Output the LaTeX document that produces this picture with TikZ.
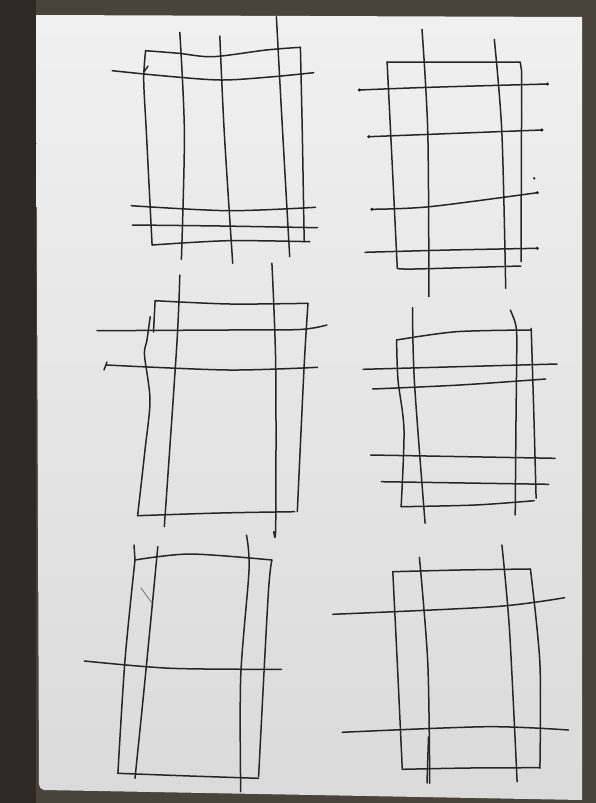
\documentclass[tikz,border=0pt]{standalone}
\begin{document}
\begin{tikzpicture}[x=1pt,y=-1pt,
  pen/.style={line width=1.5pt, draw=black!85, line cap=round, line join=round},
  thin pen/.style={line width=0.7pt, draw=black!60, line cap=round},
  enddot/.style={fill=black!88}]
\definecolor{sofa}{HTML}{4A433B}
\definecolor{sofadark}{HTML}{2F2A25}
\definecolor{paper}{HTML}{E6E6E6}
\useasboundingbox (0,0) rectangle (596,803);
\fill[sofa] (0,0) rectangle (596,803);
\fill[sofadark] (0,0) rectangle (36,803);
\shade[top color=paper!60!white, bottom color=paper!95!black]
  (36,15) -- (582,17) -- (582,800) -- (44,790) to[out=180,in=-90] (39,784) -- cycle;

% ---------- Panel 1 (top left) ----------
\draw[pen] plot[smooth,tension=0.5] coordinates {(145.6,50.7) (178.7,53.3) (212.9,56.7) (266.2,50) (300.4,47.3)};
\draw[pen] plot[smooth,tension=0.5] coordinates {(300.4,47.3) (302.3,133) (304.2,241.7)};
\draw[pen] plot[smooth,tension=0.5] coordinates {(152.1,245) (228.1,240.7) (309.9,241.7)};
\draw[pen] plot[smooth,tension=0.5] coordinates {(145.6,50.7) (143.7,80) (146.4,133) (152.1,245)};
\draw[pen] (144,72) -- (148,66);
\draw[pen] plot[smooth,tension=0.5] coordinates {(112.2,70.7) (165,76) (220.5,80) (270,77) (313.7,72.7)};
\draw[pen] plot[smooth,tension=0.5] coordinates {(131.2,205.7) (228.1,210.7) (315.6,207.3)};
\draw[pen] plot[smooth,tension=0.5] coordinates {(132.3,225) (220,226) (317.5,227.7)};
\draw[pen] plot[smooth,tension=0.5] coordinates {(179.8,32.3) (184.4,133.3) (181.4,259.3)};
\draw[pen] plot[smooth,tension=0.5] coordinates {(219.8,36) (224.3,133) (232.7,263.3)};
\draw[pen] plot[smooth,tension=0.5] coordinates {(276.4,16.7) (281.4,110) (289.7,256.7)};

% ---------- Panel 2 (top right) ----------
\draw[pen] (387.1,62) -- (520.2,62) -- (521.7,71.7) -- (521,261.7);
\draw[pen] plot[smooth,tension=0.5] coordinates {(387.1,62) (392,160) (397.3,268.3)};
\draw[pen] plot[smooth,tension=0.5] coordinates {(397.3,268.3) (414.4,269) (520.9,266)};
\draw[pen] plot[smooth,tension=0.5] coordinates {(422,29.3) (427.8,133) (428.9,296.7)};
\draw[pen] plot[smooth,tension=0.5] coordinates {(494.3,39.3) (501.9,133) (505.7,288.3)};
\draw[pen] plot[smooth,tension=0.5] coordinates {(359.3,90) (429.7,87.3) (547.5,84)};
\draw[pen] plot[smooth,tension=0.5] coordinates {(368.8,136.7) (456.3,133.3) (541.8,130)};
\draw[pen] plot[smooth,tension=0.5] coordinates {(371.9,209.3) (429.7,206.7) (537.3,192.7)};
\draw[pen] plot[smooth,tension=0.5] coordinates {(365,252.3) (450,250) (537.3,248.3)};
\foreach \p in {(359.3,90),(547.5,84),(368.8,136.7),(541.8,130),(371.9,209.3),(537.3,192.7),(537.3,248.3)}
  \fill[enddot] \p circle (1.7);
\fill[enddot] (534.2,178.3) circle (1.3);

% ---------- Panel 3 (middle left) ----------
\draw[pen] plot[smooth,tension=0.5] coordinates {(271.9,263.3) (275.7,365) (275.7,525) (273.8,531.7)};
\draw[pen] plot[smooth,tension=0.5] coordinates {(179.8,275) (176.8,345) (164.3,526.7)};
\draw[pen] plot[smooth,tension=0.5] coordinates {(155.1,300.7) (230,304) (308,303.3)};
\draw[pen] plot[smooth,tension=0.5] coordinates {(308,303.3) (304.2,365) (297.3,511.7)};
\draw[pen] plot[smooth,tension=0.5] coordinates {(137.6,515.7) (220,513) (294.7,511.7)};
\draw[pen] (155.1,300.7) -- (153.5,332);
\draw[pen] plot[smooth,tension=0.5] coordinates {(150.2,316.7) (147,340) (144.5,355) (150,400) (145,450) (137.6,515.7)};
\draw[pen] plot[smooth,tension=0.5] coordinates {(97,330.7) (228.1,330) (300,329.5) (327,325)};
\draw[pen] plot[smooth,tension=0.5] coordinates {(106.5,365) (228.1,370) (317.5,367.3)};
\draw[pen] (104,370) -- (107,362);

% ---------- Panel 4 (middle right) ----------
\draw[pen] plot[smooth,tension=0.5] coordinates {(396.6,340) (456.3,331.7) (531.2,330)};
\draw[pen] plot[smooth,tension=0.5] coordinates {(531.2,328.3) (534,420) (536.1,498.3)};
\draw[pen] plot[smooth,tension=0.5] coordinates {(401.1,506.7) (475.3,505) (534.2,500.7)};
\draw[pen] plot[smooth,tension=0.5] coordinates {(396.6,340) (398,380) (404,430) (401.1,506.7)};
\draw[pen] plot[smooth,tension=0.5] coordinates {(412.5,307.7) (414.4,381.7) (425.1,523.3)};
\draw[pen] plot[smooth,tension=0.4] coordinates {(510.3,310) (515,322) (516.8,338) (516,420) (515.2,515)};
\draw[pen] (363.1,369.3) -- (557,364);
\draw[pen] plot[smooth,tension=0.5] coordinates {(372.6,389) (460,385) (545.6,379)};
\draw[pen] (370.7,455) -- (555.1,458.3);
\draw[pen] (381.4,481.7) -- (548.7,484.3);

% ---------- Panel 5 (bottom left) ----------
\draw[pen] plot[smooth,tension=0.5] coordinates {(135,560) (190.1,554) (271.9,560)};
\draw[pen] plot[smooth,tension=0.5] coordinates {(271.9,560) (268.1,596.7) (258.6,776.7)};
\draw[pen] plot[smooth,tension=0.5] coordinates {(117.9,773.3) (190,776) (258.6,778.3)};
\draw[pen] plot[smooth,tension=0.5] coordinates {(135,560) (125,660) (117.9,773.3)};
\draw[pen] (134,545) -- (135,560);
\draw[pen] plot[smooth,tension=0.5] coordinates {(157.8,546.7) (152.1,606.7) (144,690) (135,778.3)};
\draw[pen] plot[smooth,tension=0.5] coordinates {(246.4,535) (249,570) (240.7,676.7) (240.7,791.7)};
\draw[thin pen] (141,588) -- (152,603);
\draw[pen] plot[smooth,tension=0.5] coordinates {(84.4,661) (171.1,668.3) (281.4,669.3)};

% ---------- Panel 6 (bottom right) ----------
\draw[pen] plot[smooth,tension=0.5] coordinates {(392.8,571.7) (460,570) (530.4,569)};
\draw[pen] plot[smooth,tension=0.5] coordinates {(392.8,571.7) (397.3,663.3) (402.3,769.3)};
\draw[pen] plot[smooth,tension=0.5] coordinates {(530.4,569) (539.9,663.3) (539.9,768.3)};
\draw[pen] plot[smooth,tension=0.5] coordinates {(402.3,769.3) (470,768) (539.9,767.7)};
\draw[pen] plot[smooth,tension=0.5] coordinates {(419.4,557.3) (427.8,663.3) (429.7,783.3)};
\draw[pen] (428.5,737) -- (427,783);
\draw[pen] plot[smooth,tension=0.5] coordinates {(501.9,545) (509.5,630) (517.1,781.7)};
\draw[pen] plot[smooth,tension=0.5] coordinates {(332.7,614.3) (494.3,606.7) (564.6,597.7)};
\draw[pen] plot[smooth,tension=0.5] coordinates {(342.2,732.3) (486.7,726.7) (568.4,730)};
\end{tikzpicture}
\end{document}
